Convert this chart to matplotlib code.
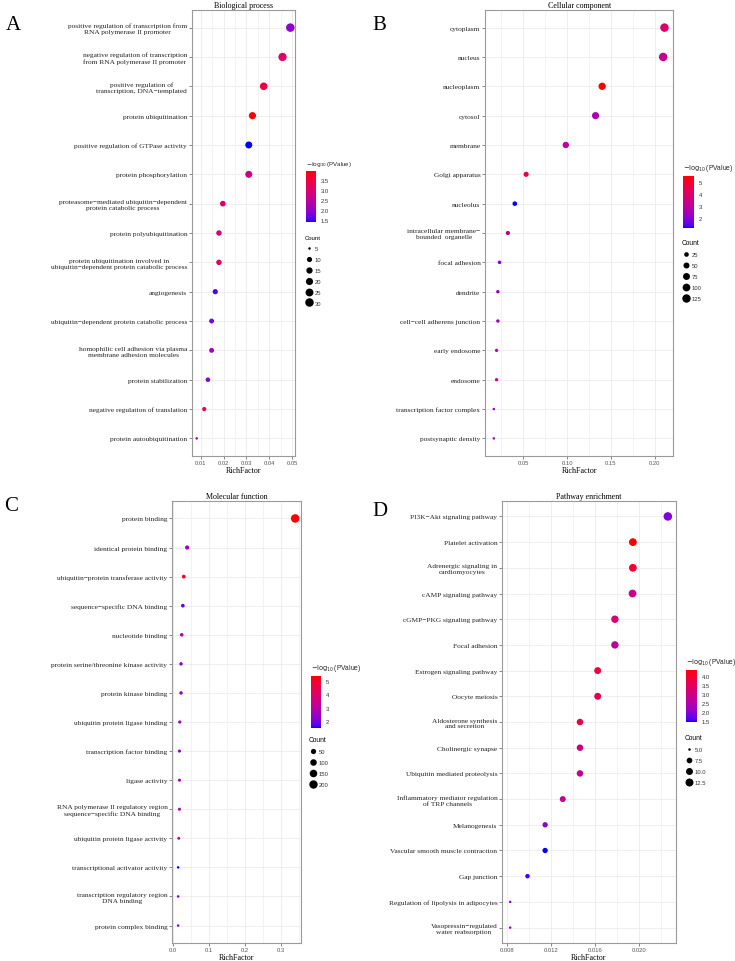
import numpy as np
import matplotlib
matplotlib.use('Agg')
import matplotlib.pyplot as plt
from matplotlib.colors import ListedColormap, Normalize
from matplotlib.cm import ScalarMappable
from matplotlib.lines import Line2D
from matplotlib.ticker import MultipleLocator, NullLocator, FormatStrFormatter

W, H = 735, 962

# ---- data ----
bp_terms = ['positive regulation of transcription from\nRNA polymerase II promoter',
            'negative regulation of transcription\nfrom RNA polymerase II promoter',
            'positive regulation of\ntranscription, DNA\u2212templated',
            'protein ubiquitination',
            'positive regulation of GTPase activity',
            'protein phosphorylation',
            'proteasome\u2212mediated ubiquitin\u2212dependent\nprotein catabolic process',
            'protein polyubiquitination',
            'protein ubiquitination involved in\nubiquitin\u2212dependent protein catabolic process',
            'angiogenesis',
            'ubiquitin\u2212dependent protein catabolic process',
            'homophilic cell adhesion via plasma\nmembrane adhesion molecules',
            'protein stabilization',
            'negative regulation of translation',
            'protein autoubiquitination']
bp_rich = [0.0491, 0.0457, 0.0375, 0.0326, 0.0310, 0.0310, 0.0197, 0.0180,
           0.0180, 0.0164, 0.0148, 0.0148, 0.0132, 0.0116, 0.0083]
bp_count = [30, 28, 23, 20, 19, 19, 12, 11, 11, 10, 9, 9, 8, 7, 5]
bp_logp = [1.93, 3.07, 3.45, 3.95, 1.42, 2.70, 2.94, 2.80, 3.20, 1.55,
           1.80, 2.18, 1.93, 3.40, 2.05]

cc_terms = ['cytoplasm', 'nucleus', 'nucleoplasm', 'cytosol', 'membrane',
            'Golgi apparatus', 'nucleolus',
            'intracellular membrane\u2212\nbounded  organelle',
            'focal adhesion', 'dendrite', 'cell\u2212cell adherens junction',
            'early endosome', 'endosome', 'transcription factor complex',
            'postsynaptic density']
cc_rich = [0.2110, 0.2095, 0.1400, 0.1325, 0.0986, 0.0534, 0.0405, 0.0326,
           0.0231, 0.0212, 0.0212, 0.0197, 0.0197, 0.0166, 0.0166]
cc_count = [129, 128, 86, 81, 60, 33, 25, 20, 14, 13, 13, 12, 12, 10, 10]
cc_logp = [3.90, 3.20, 5.50, 2.60, 3.00, 4.30, 1.17, 2.80, 2.00, 2.20,
           2.20, 2.80, 2.90, 2.30, 2.30]

mf_terms = ['protein binding', 'identical protein binding',
            'ubiquitin\u2212protein transferase activity',
            'sequence\u2212specific DNA binding', 'nucleotide binding',
            'protein serine/threonine kinase activity', 'protein kinase binding',
            'ubiquitin protein ligase binding', 'transcription factor binding',
            'ligase activity',
            'RNA polymerase II regulatory region\nsequence\u2212specific DNA binding',
            'ubiquitin protein ligase activity',
            'transcriptional activator activity',
            'transcription regulatory region\nDNA binding',
            'protein complex binding']
mf_rich = [0.340, 0.040, 0.0306, 0.028, 0.025, 0.023, 0.023, 0.0195,
           0.0186, 0.0186, 0.0186, 0.0167, 0.015, 0.015, 0.015]
mf_count = [208, 25, 19, 17, 15, 14, 14, 12, 11, 11, 11, 10, 9, 9, 9]
mf_logp = [5.40, 2.50, 4.80, 1.90, 2.80, 2.30, 2.30, 2.70, 2.30, 2.70,
           2.90, 3.10, 1.46, 1.90, 2.00]

kegg_terms = ['PI3K\u2212Akt signaling pathway', 'Platelet activation',
              'Adrenergic signaling in\ncardiomyocytes', 'cAMP signaling pathway',
              'cGMP\u2212PKG signaling pathway', 'Focal adhesion',
              'Estrogen signaling pathway', 'Oocyte meiosis',
              'Aldosterone synthesis\nand secretion', 'Cholinergic synapse',
              'Ubiquitin mediated proteolysis',
              'Inflammatory mediator regulation\nof TRP channels',
              'Melanogenesis', 'Vascular smooth muscle contraction',
              'Gap junction', 'Regulation of lipolysis in adipocytes',
              'Vasopressin\u2212regulated\nwater reabsorption']
kegg_rich = [0.0226, 0.01943, 0.01943, 0.0194, 0.0178, 0.0178, 0.01624,
             0.01624, 0.01463, 0.01463, 0.01463, 0.01307, 0.01147, 0.01147,
             0.00987, 0.0083, 0.0083]
kegg_count = [14, 12, 12, 12, 11, 11, 10, 10, 9, 9, 9, 8, 7, 7, 6, 5, 5]
kegg_logp = [1.90, 4.33, 4.00, 2.90, 3.20, 2.60, 3.80, 3.60, 3.70, 3.00,
             2.80, 2.80, 2.00, 1.43, 1.55, 2.00, 2.20]

bp_size_legend = [5, 10, 15, 20, 25, 30]
cc_size_legend = [25, 50, 75, 100, 125]
mf_size_legend = [50, 100, 150, 200]
kegg_size_legend = [5.0, 7.5, 10.0, 12.5]


# ---- blue -> red gradient interpolated in Lab, like ggplot ----
def srgb_to_lab(rgb):
    c = np.asarray(rgb, float)
    lin = np.where(c <= 0.04045, c / 12.92, ((c + 0.055) / 1.055) ** 2.4)
    M = np.array([[0.4124, 0.3576, 0.1805],
                  [0.2126, 0.7152, 0.0722],
                  [0.0193, 0.1192, 0.9505]])
    xyz = M @ lin / np.array([0.95047, 1.0, 1.08883])
    f = np.where(xyz > 0.008856, np.cbrt(xyz), 7.787 * xyz + 16 / 116)
    return np.array([116 * f[1] - 16, 500 * (f[0] - f[1]), 200 * (f[1] - f[2])])


def lab_to_srgb(lab):
    L, a, b = lab
    fy = (L + 16) / 116
    fx = fy + a / 500
    fz = fy - b / 200
    f = np.array([fx, fy, fz])
    xyz = np.where(f ** 3 > 0.008856, f ** 3, (f - 16 / 116) / 7.787)
    xyz = xyz * np.array([0.95047, 1.0, 1.08883])
    Minv = np.array([[3.2406, -1.5372, -0.4986],
                     [-0.9689, 1.8758, 0.0415],
                     [0.0557, -0.2040, 1.0570]])
    lin = np.clip(Minv @ xyz, 0, 1)
    c = np.where(lin <= 0.0031308, 12.92 * lin, 1.055 * lin ** (1 / 2.4) - 0.055)
    return np.clip(c, 0, 1)


lab_lo = srgb_to_lab([0, 0, 1])
lab_hi = srgb_to_lab([1, 0, 0])
cmap = ListedColormap([lab_to_srgb(lab_lo + (lab_hi - lab_lo) * t)
                       for t in np.linspace(0, 1, 256)])

SERIF = 'Liberation Serif'
SANS = 'Liberation Sans'
GRID = '#ebebeb'
FRAME = '#9a9a9a'

fig = plt.figure(figsize=(W / 100, H / 100), dpi=100)


def px_axes(x0, y0, x1, y1):
    return fig.add_axes([x0 / W, 1 - y1 / H, (x1 - x0) / W, (y1 - y0) / H])


def diam(counts, lo, hi):
    c = np.asarray(counts, float)
    px = 2.5 + 6.0 * np.sqrt((c - lo) / (hi - lo))
    return px * 0.72  # points


def panel(letter, title, terms, rich, count, logp, size_leg, cbar_ticks,
          xstep, xfmt, cfmt, box, letter_xy, cbar_box, leg_xy, lfs):
    ax = px_axes(*box)
    n = len(terms)
    y = np.arange(n)[::-1]
    lo, hi = min(count), max(count)
    d = diam(count, lo, hi)
    norm = Normalize(min(logp), max(logp))
    ax.scatter(rich, y, s=d ** 2, c=logp, cmap=cmap, norm=norm,
               linewidths=0, zorder=3)
    span = max(rich) - min(rich)
    ax.set_xlim(min(rich) - 0.05 * span, max(rich) + 0.05 * span)
    ax.set_ylim(-0.6, n - 0.4)
    ax.set_yticks(y)
    ax.set_yticklabels(terms, fontsize=5.3, family=SERIF, color='#222222',
                       multialignment='center', linespacing=1.25)
    ax.xaxis.set_major_locator(MultipleLocator(xstep))
    ax.xaxis.set_minor_locator(MultipleLocator(xstep / 2))
    ax.xaxis.set_major_formatter(FormatStrFormatter(xfmt))
    ax.yaxis.set_minor_locator(NullLocator())
    ax.tick_params(axis='both', which='major', length=2, width=0.5,
                   color='#555555', pad=1.5)
    ax.tick_params(axis='x', which='minor', bottom=False)
    ax.tick_params(axis='x', labelsize=4.2, labelcolor='#555555', pad=1)
    for lab in ax.get_xticklabels():
        lab.set_family(SANS)
    ax.grid(True, which='major', color=GRID, lw=0.6)
    ax.grid(True, which='minor', axis='x', color=GRID, lw=0.4)
    ax.set_axisbelow(True)
    for sp in ax.spines.values():
        sp.set_color(FRAME)
        sp.set_linewidth(0.8)
    ax.set_title(title, fontsize=5.8, family=SERIF, pad=2.5)
    ax.set_xlabel('RichFactor', fontsize=5.8, family=SERIF, labelpad=0.5)
    fig.text(letter_xy[0] / W, 1 - letter_xy[1] / H, letter, fontsize=15,
             family=SERIF, ha='left', va='center')

    # colour bar
    cax = px_axes(*cbar_box)
    cb = fig.colorbar(ScalarMappable(norm=norm, cmap=cmap), cax=cax,
                      ticks=cbar_ticks, format=cfmt)
    cb.outline.set_visible(False)
    cax.tick_params(length=2, width=0.5, color='white', labelsize=4.2,
                    pad=1.5, labelcolor='#333333')
    for lab in cax.get_yticklabels():
        lab.set_family(SANS)
    fig.text(cbar_box[0] / W, 1 - (cbar_box[1] - 3) / H,
             r'$-\log_{10}$(PValue)', fontsize=lfs, family=SANS,
             ha='left', va='bottom', color='#222222')

    # size legend
    hd = diam(size_leg, lo, hi)
    handles = [Line2D([], [], marker='o', ls='', color='black',
                      markersize=m, markeredgewidth=0) for m in hd]
    labels = [('%.1f' % v) if isinstance(v, float) else str(v)
              for v in size_leg]
    leg = ax.legend(handles, labels, title='Count', loc='upper left',
                    bbox_to_anchor=(leg_xy[0] / W, 1 - leg_xy[1] / H),
                    bbox_transform=fig.transFigure, frameon=False,
                    fontsize=4.2, title_fontsize=lfs, labelspacing=1.0,
                    handletextpad=0.4, handlelength=1.3, borderpad=0,
                    borderaxespad=0, alignment='left')
    for t in leg.get_texts():
        t.set_family(SANS)
        t.set_color('#333333')
    leg.get_title().set_family(SANS)
    return ax


panel('A', 'Biological process', bp_terms, bp_rich, bp_count, bp_logp,
      bp_size_legend, [1.5, 2.0, 2.5, 3.0, 3.5], 0.01, '%.2f', '%.1f',
      (192, 11, 295, 457), (6, 26), (306, 172, 316, 223), (305, 236), 4.3)
panel('B', 'Cellular component', cc_terms, cc_rich, cc_count, cc_logp,
      cc_size_legend, [2, 3, 4, 5], 0.05, '%.2f', '%d',
      (485.3, 11, 673, 457), (372, 26), (683, 177, 694, 229), (682, 240), 4.8)
panel('C', 'Molecular function', mf_terms, mf_rich, mf_count, mf_logp,
      mf_size_legend, [2, 3, 4, 5], 0.1, '%.1f', '%d',
      (172.3, 502, 301, 944), (4, 507), (310.7, 677, 321, 729), (309, 737), 4.8)
panel('D', 'Pathway enrichment', kegg_terms, kegg_rich, kegg_count, kegg_logp,
      kegg_size_legend, [1.5, 2.0, 2.5, 3.0, 3.5, 4.0], 0.004, '%.3f', '%.1f',
      (502.3, 502, 675.7, 944), (372, 512), (686, 670.7, 696.7, 723), (685, 735), 4.8)

fig.savefig('out.png', dpi=100)
